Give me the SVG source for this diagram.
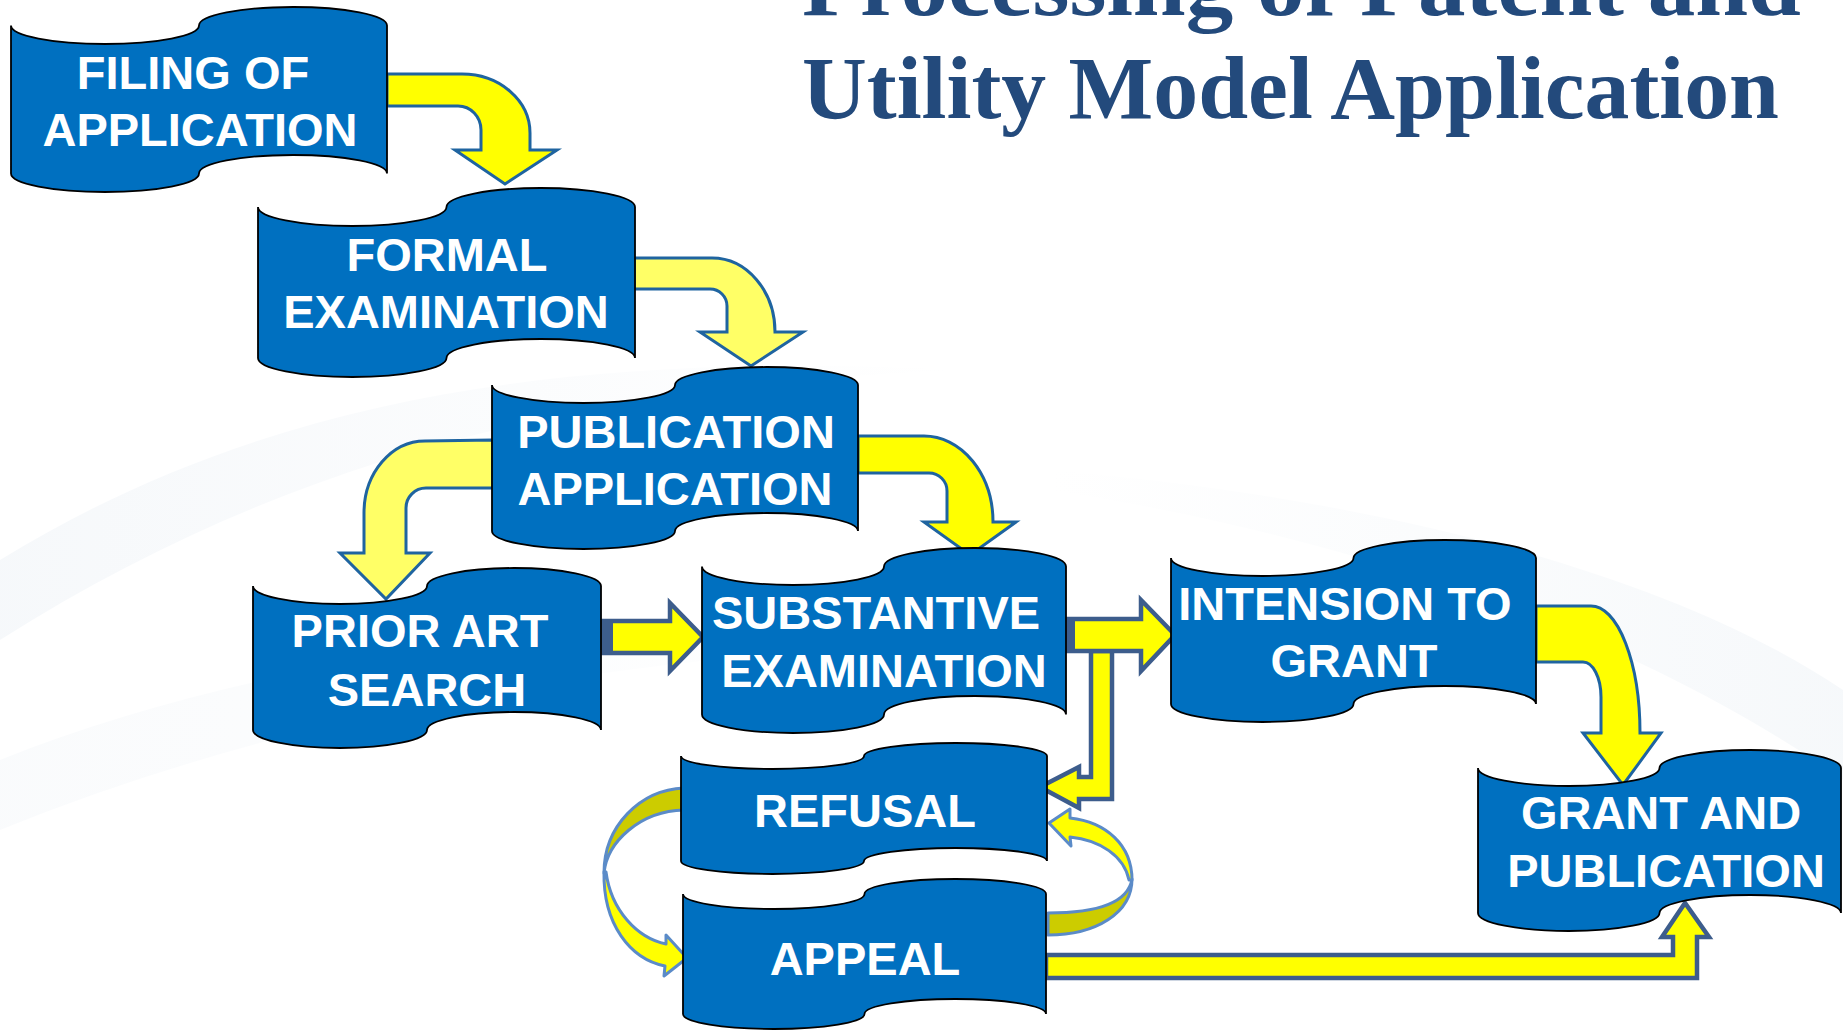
<svg xmlns="http://www.w3.org/2000/svg" width="1843" height="1030" viewBox="0 0 1843 1030">
  <defs>
    <style>
      .tape { fill: #0070C0; stroke: #000; stroke-width: 1.8; }
      .lbl { font-family: "Liberation Sans", Arial, sans-serif; font-weight: bold; font-size: 47px; fill: #fff; text-anchor: middle; }
      .title { font-family: "Liberation Serif", "Times New Roman", serif; font-weight: bold; font-size: 88px; fill: #234A7C; }
      .blue { stroke: #1F64A0; stroke-width: 3; stroke-linejoin: miter; }
      .slate { stroke: #3D5D8C; stroke-width: 4.5; stroke-linejoin: miter; }
      .soft { stroke: #5B8BC8; stroke-width: 3; stroke-linejoin: round; }
      .y { fill: #FFFF00; }
      .ly { fill: #FFFF66; }
      .dy { fill: #CCCC00; }
      .tail { fill: #3D5D8C; }
    </style>
    <linearGradient id="swoosh" x1="0" y1="0" x2="1" y2="0">
      <stop offset="0" stop-color="#E4EBF2" stop-opacity="0.55"/>
      <stop offset="1" stop-color="#E4EBF2" stop-opacity="0"/>
    </linearGradient>
    <linearGradient id="swoosh2" x1="0" y1="0" x2="1" y2="0">
      <stop offset="0" stop-color="#E6EDF3" stop-opacity="0"/>
      <stop offset="1" stop-color="#E6EDF3" stop-opacity="0.6"/>
    </linearGradient>
  </defs>

  <!-- slide background -->
  <rect width="1843" height="1030" fill="#FFFFFF"/>
  <g id="background">
    <path d="M0,560 C260,400 560,350 960,370 C600,385 300,450 0,640 Z" fill="url(#swoosh)" opacity="0.6"/>
    <path d="M0,760 C300,640 700,600 1100,640 C700,640 320,700 0,830 Z" fill="url(#swoosh)" opacity="0.35"/>
    <path d="M1050,470 C1400,500 1680,580 1843,690 L1843,780 C1660,650 1380,540 1050,490 Z" fill="url(#swoosh2)" opacity="0.6"/>
  </g>

  <!-- heading -->
  <g id="title">
    <text class="title" x="802" y="15" textLength="999" lengthAdjust="spacingAndGlyphs">Processing of Patent and</text>
    <text class="title" x="802" y="118" textLength="977" lengthAdjust="spacingAndGlyphs">Utility Model Application</text>
  </g>

  <!-- connectors (block arrows) -->
  <g id="connectors">
    <!-- filing -> formal -->
    <path class="y blue" d="M387,74 L462,74 A68 59 0 0 1 530,133 L530,150 L557,150 L505,184 L455,150 L481,150 L481,130 A23 24 0 0 0 458,106 L387,106 Z"/>
    <!-- formal -> publication -->
    <path class="ly blue" d="M634,258 L712,258 A63 74 0 0 1 775,332 L803,332 L751,366 L700,332 L727,332 L727,306 A17 17 0 0 0 710,289 L634,289 Z"/>
    <!-- publication -> prior art search -->
    <path class="ly blue" d="M493,440 L425,441 A61 72 0 0 0 364,513 L364,553 L340,553 L386,599 L430,553 L406,553 L406,508 A20 20 0 0 1 426,488 L493,488 Z"/>
    <!-- publication -> substantive examination -->
    <path class="y blue" d="M858,436 L924,436 A69 86 0 0 1 993,522 L1016,522 L970,555 L924,522 L947,522 L947,491 A18 18 0 0 0 929,473 L858,473 Z"/>
    <!-- prior art search -> substantive examination -->
    <path class="y slate" d="M601,621 L670,621 L670,603 L703,637 L670,671 L670,653 L601,653 Z"/>
    <rect class="tail" x="599" y="619" width="14" height="36"/>
    <!-- substantive examination -> refusal -->
    <path class="y slate" d="M1091,651 L1112,651 L1112,799 L1079,799 L1079,808 L1040,787 L1079,767 L1079,777 L1091,777 Z"/>
    <!-- substantive examination -> intension to grant -->
    <path class="y slate" d="M1064,619 L1141,619 L1141,600 L1175,635 L1141,671 L1141,651 L1064,651 Z"/>
    <rect class="tail" x="1062" y="617" width="13" height="36"/>
    <!-- intension to grant -> grant and publication -->
    <path class="y blue" d="M1536,606 L1591,606 A49 127 0 0 1 1640,733 L1661,733 L1623,785 L1583,733 L1601,733 L1601,697 A18 35 0 0 0 1583,662 L1536,662 Z"/>
    <!-- refusal -> appeal (curved, left side) -->
    <path class="dy soft" d="M684,788 C640,790 604,826 604,873 C607,842 640,811 684,810 Z"/>
    <path class="y soft" d="M604,872 C603,924 630,959 665,966 L664,976 L687,958 L666,935 L666,944 C637,938 611,910 606,872 Z"/>
    <!-- appeal -> refusal (curved, right side) -->
    <path class="dy soft" d="M1048,935 C1096,935 1132,913 1132,879 C1128,903 1096,913 1048,913 Z"/>
    <path class="y soft" d="M1132,880 C1132,845 1106,822 1070,818 L1070,809 L1049,823 L1071,846 L1070,837 C1100,840 1124,856 1129,880 Z"/>
    <!-- appeal -> grant and publication -->
    <path class="y slate" d="M1046,955 L1673,955 L1673,937 L1662,937 L1685,903 L1709,937 L1697,937 L1697,978 L1046,978 Z"/>
  </g>

  <!-- process steps -->
  <g id="node-filing">
    <path class="tape" d="M11,25.5 A94 18.5 0 0 0 199,25.5 A94 18.5 0 0 1 387,25.5 L387,173.5 A94 18.5 0 0 0 199,173.5 A94 18.5 0 0 1 11,173.5 Z"/>
    <text class="lbl" x="193" y="89">FILING OF</text>
    <text class="lbl" x="200" y="146">APPLICATION</text>
  </g>
  <g id="node-formal">
    <path class="tape" d="M258,207 A94.25 19 0 0 0 446.5,207 A94.25 19 0 0 1 635,207 L635,358 A94.25 19 0 0 0 446.5,358 A94.25 19 0 0 1 258,358 Z"/>
    <text class="lbl" x="447" y="271">FORMAL</text>
    <text class="lbl" x="446" y="328">EXAMINATION</text>
  </g>
  <g id="node-publication">
    <path class="tape" d="M492,385 A91.5 18 0 0 0 675,385 A91.5 18 0 0 1 858,385 L858,531 A91.5 18 0 0 0 675,531 A91.5 18 0 0 1 492,531 Z"/>
    <text class="lbl" x="676" y="448">PUBLICATION</text>
    <text class="lbl" x="675" y="505">APPLICATION</text>
  </g>
  <g id="node-prior-art">
    <path class="tape" d="M253,586 A87 18 0 0 0 427,586 A87 18 0 0 1 601,586 L601,730 A87 18 0 0 0 427,730 A87 18 0 0 1 253,730 Z"/>
    <text class="lbl" x="420" y="647">PRIOR ART</text>
    <text class="lbl" x="427" y="706">SEARCH</text>
  </g>
  <g id="node-substantive">
    <path class="tape" d="M702,566.5 A91 18.5 0 0 0 884,566.5 A91 18.5 0 0 1 1066,566.5 L1066,714.5 A91 18.5 0 0 0 884,714.5 A91 18.5 0 0 1 702,714.5 Z"/>
    <text class="lbl" x="876" y="629">SUBSTANTIVE</text>
    <text class="lbl" x="884" y="687">EXAMINATION</text>
  </g>
  <g id="node-intension">
    <path class="tape" d="M1171,558 A91.25 18 0 0 0 1353.5,558 A91.25 18 0 0 1 1536,558 L1536,704 A91.25 18 0 0 0 1353.5,704 A91.25 18 0 0 1 1171,704 Z"/>
    <text class="lbl" x="1345" y="620">INTENSION TO</text>
    <text class="lbl" x="1354" y="677">GRANT</text>
  </g>
  <g id="node-grant">
    <path class="tape" d="M1478,768 A90.75 18 0 0 0 1659.5,768 A90.75 18 0 0 1 1841,768 L1841,913 A90.75 18 0 0 0 1659.5,913 A90.75 18 0 0 1 1478,913 Z"/>
    <text class="lbl" x="1661" y="829">GRANT AND</text>
    <text class="lbl" x="1666" y="887">PUBLICATION</text>
  </g>
  <g id="node-refusal">
    <path class="tape" d="M681,756 A91.5 13 0 0 0 864,756 A91.5 13 0 0 1 1047,756 L1047,861 A91.5 13 0 0 0 864,861 A91.5 13 0 0 1 681,861 Z"/>
    <text class="lbl" x="865" y="827">REFUSAL</text>
  </g>
  <g id="node-appeal">
    <path class="tape" d="M683,894 A90.75 15 0 0 0 864.5,894 A90.75 15 0 0 1 1046,894 L1046,1014 A90.75 15 0 0 0 864.5,1014 A90.75 15 0 0 1 683,1014 Z"/>
    <text class="lbl" x="865" y="975">APPEAL</text>
  </g>
</svg>
